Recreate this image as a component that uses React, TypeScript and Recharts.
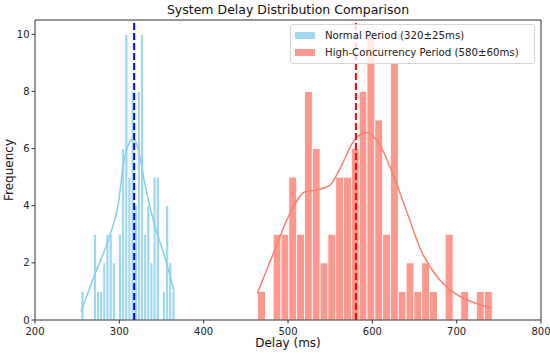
import {
  ComposedChart,
  Bar,
  Line,
  XAxis,
  YAxis,
  ReferenceLine,
  Legend,
} from "recharts";

const FONT = '"DejaVu Sans", Verdana, sans-serif';

// histogram bins (30 each)
const NORMAL_START = 254.5;
const NORMAL_BIN = 3.72;
const NORMAL_COUNTS = [
  1, 0, 0, 0, 3, 1, 1, 2, 3, 3, 2, 0, 3, 6, 10, 5, 8, 4, 8, 10, 3, 4, 2, 5, 5,
  0, 1, 4, 2, 1,
];

const HIGH_START = 464;
const HIGH_BIN = 9.27;
const HIGH_COUNTS = [
  1, 0, 3, 3, 5, 3, 8, 6, 2, 3, 5, 5, 6, 8, 10, 7, 3, 9, 1, 2, 1, 2, 1, 0, 3,
  0, 1, 0, 1, 1,
];

// kde curves (count scale)
const NORMAL_KDE_X = [254.5, 271, 288, 299, 305, 311, 317, 323, 330, 342, 354, 365];
const NORMAL_KDE_Y = [0.3, 1.6, 2.9, 4.1, 5.5, 6.15, 6.35, 5.9, 4.8, 3.3, 2.2, 1.0];

const HIGH_KDE_X = [
  463.6, 482.6, 502.4, 520.2, 534, 549.8, 561.7, 577.5, 593.3, 609.1, 624.9,
  640.8, 658.5, 678.3, 698, 717.8, 741.5,
];
const HIGH_KDE_Y = [
  0.93, 2.33, 3.73, 4.49, 4.55, 4.72, 5.3, 6.24, 6.56, 6.12, 5.07, 3.79, 2.39,
  1.46, 0.93, 0.64, 0.42,
];

const NORMAL_MEAN = 317.6;
const HIGH_MEAN = 580.5;

const X_TICKS = [200, 300, 400, 500, 600, 700, 800];
const Y_TICKS = [0, 2, 4, 6, 8, 10];
const Y_MAX = 10.5;

const NORMAL_LABEL = "Normal Period (320±25ms)";
const HIGH_LABEL = "High-Concurrency Period (580±60ms)";

const BLUE = "#87CEEB";
const RED = "#FA8072";
const AXIS = "#333";

const W = 550;
const H = 353;
const MARGIN = { top: 20, right: 9, bottom: 0, left: 0 };
const Y_AXIS_W = 35;
const X_AXIS_H = 33;
const X_DOMAIN: [number, number] = [200, 800];
const PX_PER_MS =
  (W - MARGIN.left - MARGIN.right - Y_AXIS_W) / (X_DOMAIN[1] - X_DOMAIN[0]);

const barRows = [
  ...NORMAL_COUNTS.map((c, i) => ({
    x: NORMAL_START + (i + 0.5) * NORMAL_BIN,
    normal: c,
  })),
  ...HIGH_COUNTS.map((c, i) => ({
    x: HIGH_START + (i + 0.5) * HIGH_BIN,
    high: c,
  })),
];

const normalKde = NORMAL_KDE_X.map((x, i) => ({ x, normalKde: NORMAL_KDE_Y[i] }));
const highKde = HIGH_KDE_X.map((x, i) => ({ x, highKde: HIGH_KDE_Y[i] }));

// bars are centred by recharts; widen them to the bin width
const histBar = (binMs: number, color: string) => (props: any) => {
  const { x, y, width, height } = props;
  if (!height || height <= 0) return <g />;
  const cx = x + width / 2;
  const w = binMs * PX_PER_MS;
  return (
    <rect
      x={cx - w / 2}
      y={y}
      width={w}
      height={height}
      fill={color}
      fillOpacity={0.8}
      stroke="#fff"
      strokeWidth={0.8}
    />
  );
};

const legendItems = [
  { label: NORMAL_LABEL, color: BLUE },
  { label: HIGH_LABEL, color: RED },
];

const renderLegend = () => (
  <div
    style={{
      border: "1px solid #d6d6d6",
      borderRadius: 3,
      background: "rgba(255,255,255,0.8)",
      padding: "2px 5px 2px 4px",
      fontFamily: FONT,
      fontSize: 10.2,
      color: "#222",
      boxSizing: "border-box",
      width: 245,
    }}
  >
    {legendItems.map((it) => (
      <div
        key={it.label}
        style={{ display: "flex", alignItems: "center", height: 17 }}
      >
        <span
          style={{
            display: "inline-block",
            width: 20,
            height: 7,
            background: it.color,
            opacity: 0.8,
            marginRight: 10,
          }}
        />
        <span>{it.label}</span>
      </div>
    ))}
  </div>
);

export default function App() {
  return (
    <div
      style={{
        position: "absolute",
        left: 0,
        top: 0,
        width: W,
        height: H,
        background: "#fff",
        fontFamily: FONT,
      }}
    >
      <div
        style={{
          position: "absolute",
          left: MARGIN.left + Y_AXIS_W,
          top: 2,
          width: W - MARGIN.left - MARGIN.right - Y_AXIS_W,
          textAlign: "center",
          fontSize: 12.5,
          lineHeight: "15px",
          color: "#111",
        }}
      >
        System Delay Distribution Comparison
      </div>
      <ComposedChart width={W} height={H} data={barRows} margin={MARGIN}>
        <XAxis
          dataKey="x"
          type="number"
          domain={X_DOMAIN}
          ticks={X_TICKS}
          height={X_AXIS_H}
          stroke={AXIS}
          tickSize={3.5}
          tickMargin={4}
          tick={{ fill: "#222", fontSize: 10, fontFamily: FONT }}
          label={(p: any) => {
            const vb = p.viewBox;
            return (
              <text
                x={vb.x + vb.width / 2}
                y={vb.y + 23}
                textAnchor="middle"
                dominantBaseline="central"
                fontSize={12}
                fontFamily={FONT}
                fill="#111"
              >
                Delay (ms)
              </text>
            );
          }}
        />
        <XAxis
          xAxisId="kde"
          dataKey="x"
          type="number"
          domain={X_DOMAIN}
          allowDataOverflow
          hide
        />
        <YAxis
          type="number"
          domain={[0, Y_MAX]}
          ticks={Y_TICKS}
          width={Y_AXIS_W}
          stroke={AXIS}
          tickSize={3.5}
          tickMargin={2}
          tick={{ fill: "#222", fontSize: 10, fontFamily: FONT }}
          label={(p: any) => {
            const vb = p.viewBox;
            const cx = vb.x + 9;
            const cy = vb.y + vb.height / 2;
            return (
              <text
                x={cx}
                y={cy}
                transform={`rotate(-90 ${cx} ${cy})`}
                textAnchor="middle"
                dominantBaseline="central"
                fontSize={12}
                fontFamily={FONT}
                fill="#111"
              >
                Frequency
              </text>
            );
          }}
        />
        <Bar
          dataKey="normal"
          stackId="hist"
          barSize={1}
          shape={histBar(NORMAL_BIN, BLUE)}
          isAnimationActive={false}
        />
        <Bar
          dataKey="high"
          stackId="hist"
          barSize={1}
          shape={histBar(HIGH_BIN, RED)}
          isAnimationActive={false}
        />
        <Line
          xAxisId="kde"
          data={normalKde}
          dataKey="normalKde"
          type="monotone"
          stroke={BLUE}
          strokeWidth={1.5}
          dot={false}
          activeDot={false}
          isAnimationActive={false}
        />
        <Line
          xAxisId="kde"
          data={highKde}
          dataKey="highKde"
          type="monotone"
          stroke={RED}
          strokeWidth={1.5}
          dot={false}
          activeDot={false}
          isAnimationActive={false}
        />
        <ReferenceLine
          x={NORMAL_MEAN}
          stroke="#0000ff"
          strokeWidth={2}
          strokeDasharray="7 3"
        />
        <ReferenceLine
          x={HIGH_MEAN}
          stroke="#ff0000"
          strokeWidth={2}
          strokeDasharray="7 3"
        />
        {/* top and right spines */}
        <ReferenceLine y={Y_MAX} stroke={AXIS} strokeWidth={1} />
        <ReferenceLine x={X_DOMAIN[1]} stroke={AXIS} strokeWidth={1} />
        <Legend
          layout="horizontal"
          verticalAlign="middle"
          align="center"
          content={renderLegend}
          wrapperStyle={{ top: 24, left: 290, width: 245 }}
        />
      </ComposedChart>
    </div>
  );
}
